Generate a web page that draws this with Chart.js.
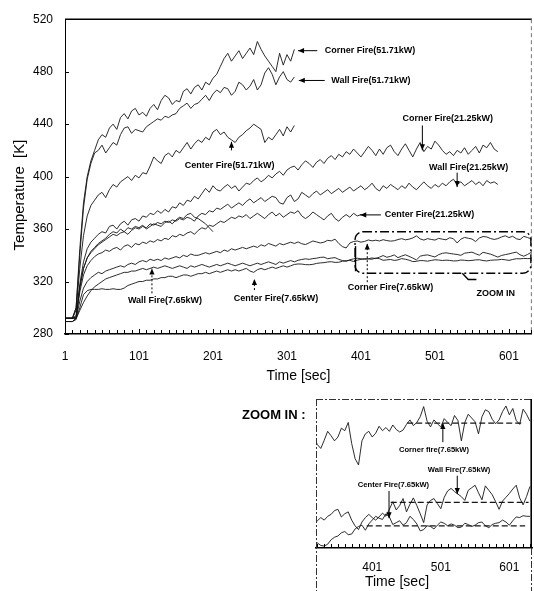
<!DOCTYPE html>
<html><head><meta charset="utf-8">
<script src="https://cdn.jsdelivr.net/npm/chart.js@4.4.1/dist/chart.umd.min.js"></script>
<style>
html,body{margin:0;padding:0;background:#fff;}
#wrap{position:relative;width:534px;height:591px;overflow:hidden;background:#fff;}
#main{position:absolute;left:0;top:0;width:534px;height:391px;}
#inset{position:absolute;left:230px;top:390px;width:304px;height:201px;}
</style></head><body>
<div id="wrap"><canvas id="main" width="534" height="391"></canvas><canvas id="inset" width="304" height="201"></canvas></div>
<script>
// ---------- DATA ----------
const times = [
1,6,11,16,21,26,31,36,41,46,
51,56,61,66,71,76,81,86,91,96,
101,106,111,116,121,126,131,136,141,146,
151,156,161,166,171,176,181,186,191,196,
201,206,211,216,221,226,231,236,241,246,
251,256,261,266,271,276,281,286,291,296,
301,306,311,316,321,326,331,336,341,346,
351,356,361,366,371,376,381,386,391,396,
401,406,411,416,421,426,431,436,441,446,
451,456,461,466,471,476,481,486,491,496,
501,506,511,516,521,526,531,536,541,546,
551,556,561,566,571,576,581,586,591,596,
601,606,611,616,621,626,631];

const corner51 = [292,292,292,300,345,380,400,412,420,428, 432,430,437,440,436,445,448,444,450,452,
447,449,446,452,455,451,458,462,460,455, 458,457,465,467,463,468,470,466,472,470,
475,478,484,490,494,488,492,496,490,494, 498,493,503,497,492,488,484,480,494,485, 493,488,497];
const wall51 = [292,292,292,300,340,376,398,410,418,420, 424,418,422,426,424,432,437,438,433,436,
435,434,438,440,442,444,443,446,445,447, 448,452,454,456,452,455,456,459,462,458,
463,466,464,468,467,462,465,472,470,466, 469,474,466,470,479,483,478,470,476,480, 474,472,476];
const center51 = [292,292,292,298,330,355,370,378,382,386, 388,384,390,394,392,396,398,400,397,401,
399,403,402,408,415,412,410,416,418,415, 420,418,422,426,421,425,428,426,430,428,
434,436,432,434,430,428,426,430,432,435, 437,440,438,436,426,430,428,432,436,431, 438,434,439];
const corner21 = [292,292,292,294,318,335,345,350,353,356, 358,357,362,363,360,364,366,363,367,368,
366,370,369,372,371,374,372,375,373,377, 376,380,378,382,381,385,383,387,391,388,
393,390,389,392,394,391,393,389,392,395, 394,397,399,396,398,401,399,402,404,401,
405,407,408,405,409,412,410,407,411,413, 410,414,416,413,417,415,419,417,421,418,
415,419,423,420,416,421,417,422,424,419, 416,421,425,420,415,421,426,419,423,421,
427,424,420,417,419,416,420,418,422,417, 420,423,418,424,422,426,421,419];
const wall21 = [292,292,292,293,315,330,338,342,345,348, 350,352,354,356,355,357,358,356,359,361,
360,362,361,364,363,365,364,366,365,367, 366,368,367,369,368,366,370,372,371,374,
373,376,375,377,379,376,378,380,378,381, 383,380,382,384,381,383,385,384,380,379,
384,386,381,383,388,386,384,387,389,386, 388,390,387,389,391,388,390,392,389,391,
393,390,392,395,391,389,393,391,394,392, 390,393,391,395,392,390,393,396,393,391,
394,392,395,393,396,398,394,396,393,395, 397,394,396,393,397,395,396,394];
const center21 = [292,292,292,292,312,325,332,336,339,341, 342,344,343,345,346,344,347,348,346,349,
348,350,349,351,350,352,351,353,352,355, 354,356,355,357,358,356,359,361,360,363,
362,364,366,365,367,369,368,370,369,371, 368,370,372,370,368,371,373,370,372,369,
371,373,372,374,370,368,370,373,371,369, 367,370,372,368,366,369,371,369,372,370, 371];
const extraRun = [292,292,292,292,316,330,338,343,346,349, 351,353,356,358,357,360,358,361,360,362,
361,363,360,362,364,363,362,365,366,364, 367,369,368,371,372,369,368,366,364,361, 358];
const corner765 = [289.5,289.5,289.5,292,305,315,320,323,325,327, 326,328,329,330,331,332,331,333,334,333,
335,336,335,337,336,337,336,338,337,338, 339,338,340,339,341,340,340,341,342,341,
342,343,342,344,343,345,344,345,346,345, 346,347,346,348,347,349,348,347,349,348,
349,350,349,350.2,
348.8,348.2,349.5,350.9,350.2,349.4,350.0,351.4,351.0,352.3, 349.0,346.6,345.6,349.4,350.5,350.9,350.0,350.6,351.7,351.0,
351.5,350.9,351.9,351.2,350.8,351.1,352.0,352.7,351.8,352.3, 353.2,354.8,352.5,351.6,352.7,352.1,351.6,352.9,352.3,351.8,
353.4,352.6,349.4,352.3,353.6,353.0,352.4,350.5,353.2,354.3, 354.0,352.8,352.1,352.7,354.0,354.9,353.5,354.5,352.6,352.0,
354.4,353.6,352.5];
const wall765 = [289.5,289.5,289.5,292,298,304,309,313,316,318, 320,322,323,324,325,326,327,327,328,328,
329,330,329,330,331,330,331,332,331,330, 331,332,331,330,332,331,332,333,332,331,
332,333,332,333,334,333,332,333,334,333, 332,333,334,333,334,335,334,333,335,334,
335,336,335,336.2,
336.8,337.3,336.9,337.5,337.8,338.4,338.6,337.4,337.9,338.2, 336.9,336.0,335.4,336.6,337.3,337.8,337.3,336.9,337.4,338.0,
337.5,338.6,339.8,338.5,339.2,340.3,338.2,339.4,340.4,339.2, 337.9,336.5,339.3,340.0,340.3,339.5,338.7,340.5,341.5,341.9,
341.4,341.0,340.6,340.0,341.6,342.0,342.4,341.2,340.1,342.3, 341.6,340.9,339.8,338.6,339.9,340.5,341.1,341.8,342.4,340.4,
339.3,340.6,342.2];
const center765 = [289.5,289.5,289.5,291,300,310,313,314,314,314, 314.5,314,314,314.5,314,314,315,317,318,319,
320,320,321,321,322,322,323,323,324,324, 323,324,325,325,324,325,326,326,327,326,
327,328,327,328,329,328,329,328,329,330, 328,327,329,330,329,330,331,330,331,332,
331,332,333,333.4,
333.3,332.9,332.8,333.1,333.8,334.2,334.4,334.9,335.1,334.6, 334.7,335.5,335.9,336.1,335.3,336.3,336.9,337.5,337.2,337.0,
337.9,337.4,336.2,336.5,336.8,336.1,336.5,337.5,337.0,336.3, 335.2,335.4,336.0,335.9,335.5,336.1,336.6,336.4,336.0,336.3,
336.1,335.7,335.8,336.4,336.2,335.9,336.1,336.5,336.6,336.0, 335.7,336.2,336.4,336.5,336.9,336.6,336.1,336.8,337.4,337.3,
337.6,337.5,337.5];
// inset mean levels (dashed) : [start time, end time] and level
const meanCornerTime = [452, 619]; const meanCornerTemp = [352.2, 352.2];
const meanWallTime = [428, 629];   const meanWallTemp = [339.7, 339.7];
const meanCenterTime = [393, 624]; const meanCenterTemp = [336.0, 336.0];

const xTickLabels = [1,101,201,301,401,501,601];
const yTickLabels = [280,320,360,400,440,480,520];
const insetTickLabels = [401,501,601];

// ---------- helpers ----------
const FONT = "'Liberation Sans', Arial, sans-serif";
function pts(tArr, vArr){ return vArr.map((v,i)=>({x:tArr[i], y:v})); }
function lineDs(tArr, vArr, extra){ return Object.assign({data:pts(tArr,vArr), borderColor:'#151515', borderWidth:0.9, pointRadius:0, tension:0, fill:false}, extra||{}); }

function arrowTo(ctx, x0,y0,x1,y1, dashed){
  ctx.save(); ctx.strokeStyle='#000'; ctx.fillStyle='#000'; ctx.lineWidth=1;
  if(dashed) ctx.setLineDash([2,2]);
  ctx.beginPath(); ctx.moveTo(x0,y0); ctx.lineTo(x1,y1); ctx.stroke();
  ctx.setLineDash([]);
  const a=Math.atan2(y1-y0,x1-x0), L=6, W=2.6;
  ctx.beginPath(); ctx.moveTo(x1,y1);
  ctx.lineTo(x1-L*Math.cos(a)+W*Math.sin(a), y1-L*Math.sin(a)-W*Math.cos(a));
  ctx.lineTo(x1-L*Math.cos(a)-W*Math.sin(a), y1-L*Math.sin(a)+W*Math.cos(a));
  ctx.closePath(); ctx.fill(); ctx.restore();
}
function drawNotes(chart, notes, font){
  const {ctx} = chart; const xs=chart.scales.x, ys=chart.scales.y;
  ctx.save(); ctx.fillStyle='#000'; ctx.textBaseline='middle'; ctx.textAlign='left';
  notes.forEach(n=>{
    ctx.font = 'bold ' + (n.size||font) + 'px ' + FONT;
    ctx.fillText(n.text, xs.getPixelForValue(n.t), ys.getPixelForValue(n.T));
    if(n.arrow){
      const [[t0,T0],[t1,T1]] = n.arrow;
      arrowTo(ctx, xs.getPixelForValue(t0), ys.getPixelForValue(T0), xs.getPixelForValue(t1), ys.getPixelForValue(T1), n.dash);
    }
  });
  ctx.restore();
}

// ---------- annotations (data coordinates) ----------
const mainNotes = [
 {text:'Corner Fire(51.71kW)', t:352, T:496, arrow:[[342,496],[316,496]]},
 {text:'Wall Fire(51.71kW)', t:361, T:473.3, arrow:[[352,473.3],[317,473.3]]},
 {text:'Center Fire(51.71kW)', t:163, T:408.5, arrow:[[226,420],[226,426.5]]},
 {text:'Corner Fire(21.25kW)', t:457, T:444.6, arrow:[[484,439],[484,420]]},
 {text:'Wall Fire(21.25kW)', t:493, T:407, arrow:[[531,403],[531,392]]},
 {text:'Center Fire(21.25kW)', t:433, T:370.8, arrow:[[428,370.8],[400,370.8]]},
 {text:'Corner Fire(7.65kW)', t:383, T:315.8, arrow:[[409.5,319.5],[409.5,349]], dash:true},
 {text:'Wall Fire(7.65kW)', t:86, T:305.2, arrow:[[118.5,311],[118.5,330]], dash:true},
 {text:'Center Fire(7.65kW)', t:229, T:306.7, arrow:[[257,313.5],[257,322]], dash:true},
 {text:'ZOOM IN', t:557, T:310.5}
];
const insetNotes = [
 {text:'Corner fire(7.65kW)', t:440, T:348.0, arrow:[[504,349.2],[504,352.2]]},
 {text:'Wall Fire(7.65kW)', t:482, T:344.8, arrow:[[525,343.9],[525,341.0]]},
 {text:'Center Fire(7.65kW)', t:380, T:342.4, arrow:[[425.5,341.5],[425.5,337.2]]}
];

// ---------- main chart ----------
const mainPlugin = {
  id:'mainDeco',
  afterDraw(chart){
    const {ctx, chartArea:a} = chart; const xs=chart.scales.x, ys=chart.scales.y;
    ctx.save(); ctx.strokeStyle='#000';
    ctx.lineWidth=1.6; ctx.beginPath(); ctx.moveTo(a.left,a.top); ctx.lineTo(a.right,a.top); ctx.stroke();
    ctx.lineWidth=1; ctx.setLineDash([4,3]); ctx.strokeStyle='#777';
    ctx.beginPath(); ctx.moveTo(a.right-0.5,a.top); ctx.lineTo(a.right-0.5,a.bottom); ctx.stroke();
    ctx.setLineDash([]); ctx.strokeStyle='#000';
    ctx.lineWidth=1;
    for(let v=1; v<=631; v+=10){ const x=Math.round(xs.getPixelForValue(v))+0.5; ctx.beginPath(); ctx.moveTo(x,a.bottom); ctx.lineTo(x,a.bottom-(xTickLabels.includes(v)?5:4)); ctx.stroke(); }
    yTickLabels.forEach(v=>{ const y=Math.round(ys.getPixelForValue(v))+0.5; ctx.beginPath(); ctx.moveTo(a.left,y); ctx.lineTo(a.left+4,y); ctx.stroke(); });
    ctx.save(); ctx.translate(20, 195); ctx.rotate(-Math.PI/2);
    ctx.font='15px '+FONT; ctx.fillStyle='#000'; ctx.textAlign='center'; ctx.textBaseline='middle';
    ctx.fillText('Temperature  [K]',0,0); ctx.restore();
    const x0=xs.getPixelForValue(393), x1=xs.getPixelForValue(632), y0=ys.getPixelForValue(358), y1=ys.getPixelForValue(326.3);
    ctx.lineWidth=1.4; ctx.setLineDash([9,3,2,3]);
    ctx.beginPath(); ctx.roundRect(x0,y0,x1-x0-1,y1-y0,8); ctx.stroke();
    ctx.setLineDash([]);
    ctx.beginPath(); ctx.moveTo(x0+0.5, ys.getPixelForValue(347)); ctx.lineTo(x0+0.5, y1-2); ctx.stroke();
    ctx.beginPath();
    ctx.moveTo(xs.getPixelForValue(538), y1); ctx.lineTo(xs.getPixelForValue(546), ys.getPixelForValue(321.5)); ctx.lineTo(xs.getPixelForValue(557), ys.getPixelForValue(321.5)); ctx.stroke();
    ctx.restore();
    drawNotes(chart, mainNotes, 9);
  }
};

const mainDatasets = [
  lineDs(times, corner51), lineDs(times, wall51), lineDs(times, center51),
  lineDs(times, corner21), lineDs(times, wall21), lineDs(times, center21), lineDs(times, extraRun),
  lineDs(times, corner765), lineDs(times, wall765), lineDs(times, center765)
];

new Chart(document.getElementById('main'), {
  type:'line',
  data:{datasets:mainDatasets},
  options:{
    responsive:false, animation:false, events:[],
    layout:{padding:{top:15, right:1, left:0, bottom:0}},
    plugins:{legend:{display:false}, tooltip:{enabled:false}},
    scales:{
      x:{type:'linear', min:1, max:632,
         afterBuildTicks:s=>{ s.ticks = xTickLabels.map(v=>({value:v})); },
         afterFit:s=>{ s.height=57; },
         ticks:{color:'#000', font:{family:FONT, size:12}, padding:15, maxRotation:0, autoSkip:false},
         grid:{display:false, drawTicks:false},
         border:{display:true, color:'#000', width:1.6},
         title:{display:true, text:'Time [sec]', color:'#000', font:{family:FONT, size:14}, padding:{top:0,bottom:6}}
      },
      y:{type:'linear', min:280, max:520,
         afterBuildTicks:s=>{ s.ticks = yTickLabels.map(v=>({value:v})); },
         afterFit:s=>{ s.width=65; },
         ticks:{color:'#000', font:{family:FONT, size:12}, padding:12},
         grid:{display:false, drawTicks:false},
         border:{display:true, color:'#000', width:1}
      }
    }
  },
  plugins:[mainPlugin]
});

// ---------- inset chart ----------
const insetPlugin = {
  id:'insetDeco',
  afterDraw(chart){
    const {ctx, chartArea:a} = chart; const xs=chart.scales.x;
    const H = chart.height;
    ctx.save(); ctx.strokeStyle='#333';
    ctx.lineWidth=1; ctx.setLineDash([7,2,2,2]);
    ctx.beginPath(); ctx.moveTo(a.left,a.top+0.5); ctx.lineTo(a.right,a.top+0.5); ctx.stroke();
    ctx.beginPath(); ctx.moveTo(a.left+0.5,a.top); ctx.lineTo(a.left+0.5,H); ctx.stroke();
    ctx.beginPath(); ctx.moveTo(a.right-0.5,a.bottom); ctx.lineTo(a.right-0.5,H); ctx.stroke();
    ctx.setLineDash([]); ctx.strokeStyle='#000';
    ctx.lineWidth=1.6; ctx.beginPath(); ctx.moveTo(a.right-0.8,a.top); ctx.lineTo(a.right-0.8,a.bottom); ctx.stroke();
    ctx.lineWidth=1;
    for(let v=321; v<=631; v+=10){ const x=Math.round(xs.getPixelForValue(v))+0.5; ctx.beginPath(); ctx.moveTo(x,a.bottom); ctx.lineTo(x,a.bottom-4); ctx.stroke(); }
    ctx.fillStyle='#000'; ctx.textBaseline='middle';
    ctx.font='bold 13px '+FONT; ctx.textAlign='left';
    ctx.fillText('ZOOM IN :', a.left-74, a.top+16);
    ctx.font='14px '+FONT; ctx.textAlign='center';
    ctx.fillText('Time [sec]', a.left+81, a.bottom+34);
    ctx.restore();
    drawNotes(chart, insetNotes, 7.6);
  }
};

new Chart(document.getElementById('inset'), {
  type:'line',
  data:{datasets:[
    lineDs(times, corner765), lineDs(times, wall765), lineDs(times, center765),
    lineDs(meanCornerTime, meanCornerTemp, {borderDash:[6,3], borderWidth:1.2}),
    lineDs(meanWallTime, meanWallTemp, {borderDash:[6,3], borderWidth:1.2}),
    lineDs(meanCenterTime, meanCenterTemp, {borderDash:[6,3], borderWidth:1.2})
  ]},
  options:{
    responsive:false, animation:false, events:[],
    layout:{padding:{top:9, right:2, left:86, bottom:0}},
    plugins:{legend:{display:false}, tooltip:{enabled:false}},
    scales:{
      x:{type:'linear', min:319, max:634,
         afterBuildTicks:s=>{ s.ticks = insetTickLabels.map(v=>({value:v})); },
         afterFit:s=>{ s.height=43; },
         ticks:{color:'#000', font:{family:FONT, size:12}, padding:12, maxRotation:0, autoSkip:false},
         grid:{display:false, drawTicks:false},
         border:{display:true, color:'#000', width:1.6}
      },
      y:{type:'linear', min:332.5, max:356, display:false}
    }
  },
  plugins:[insetPlugin]
});
</script>
</body></html>
